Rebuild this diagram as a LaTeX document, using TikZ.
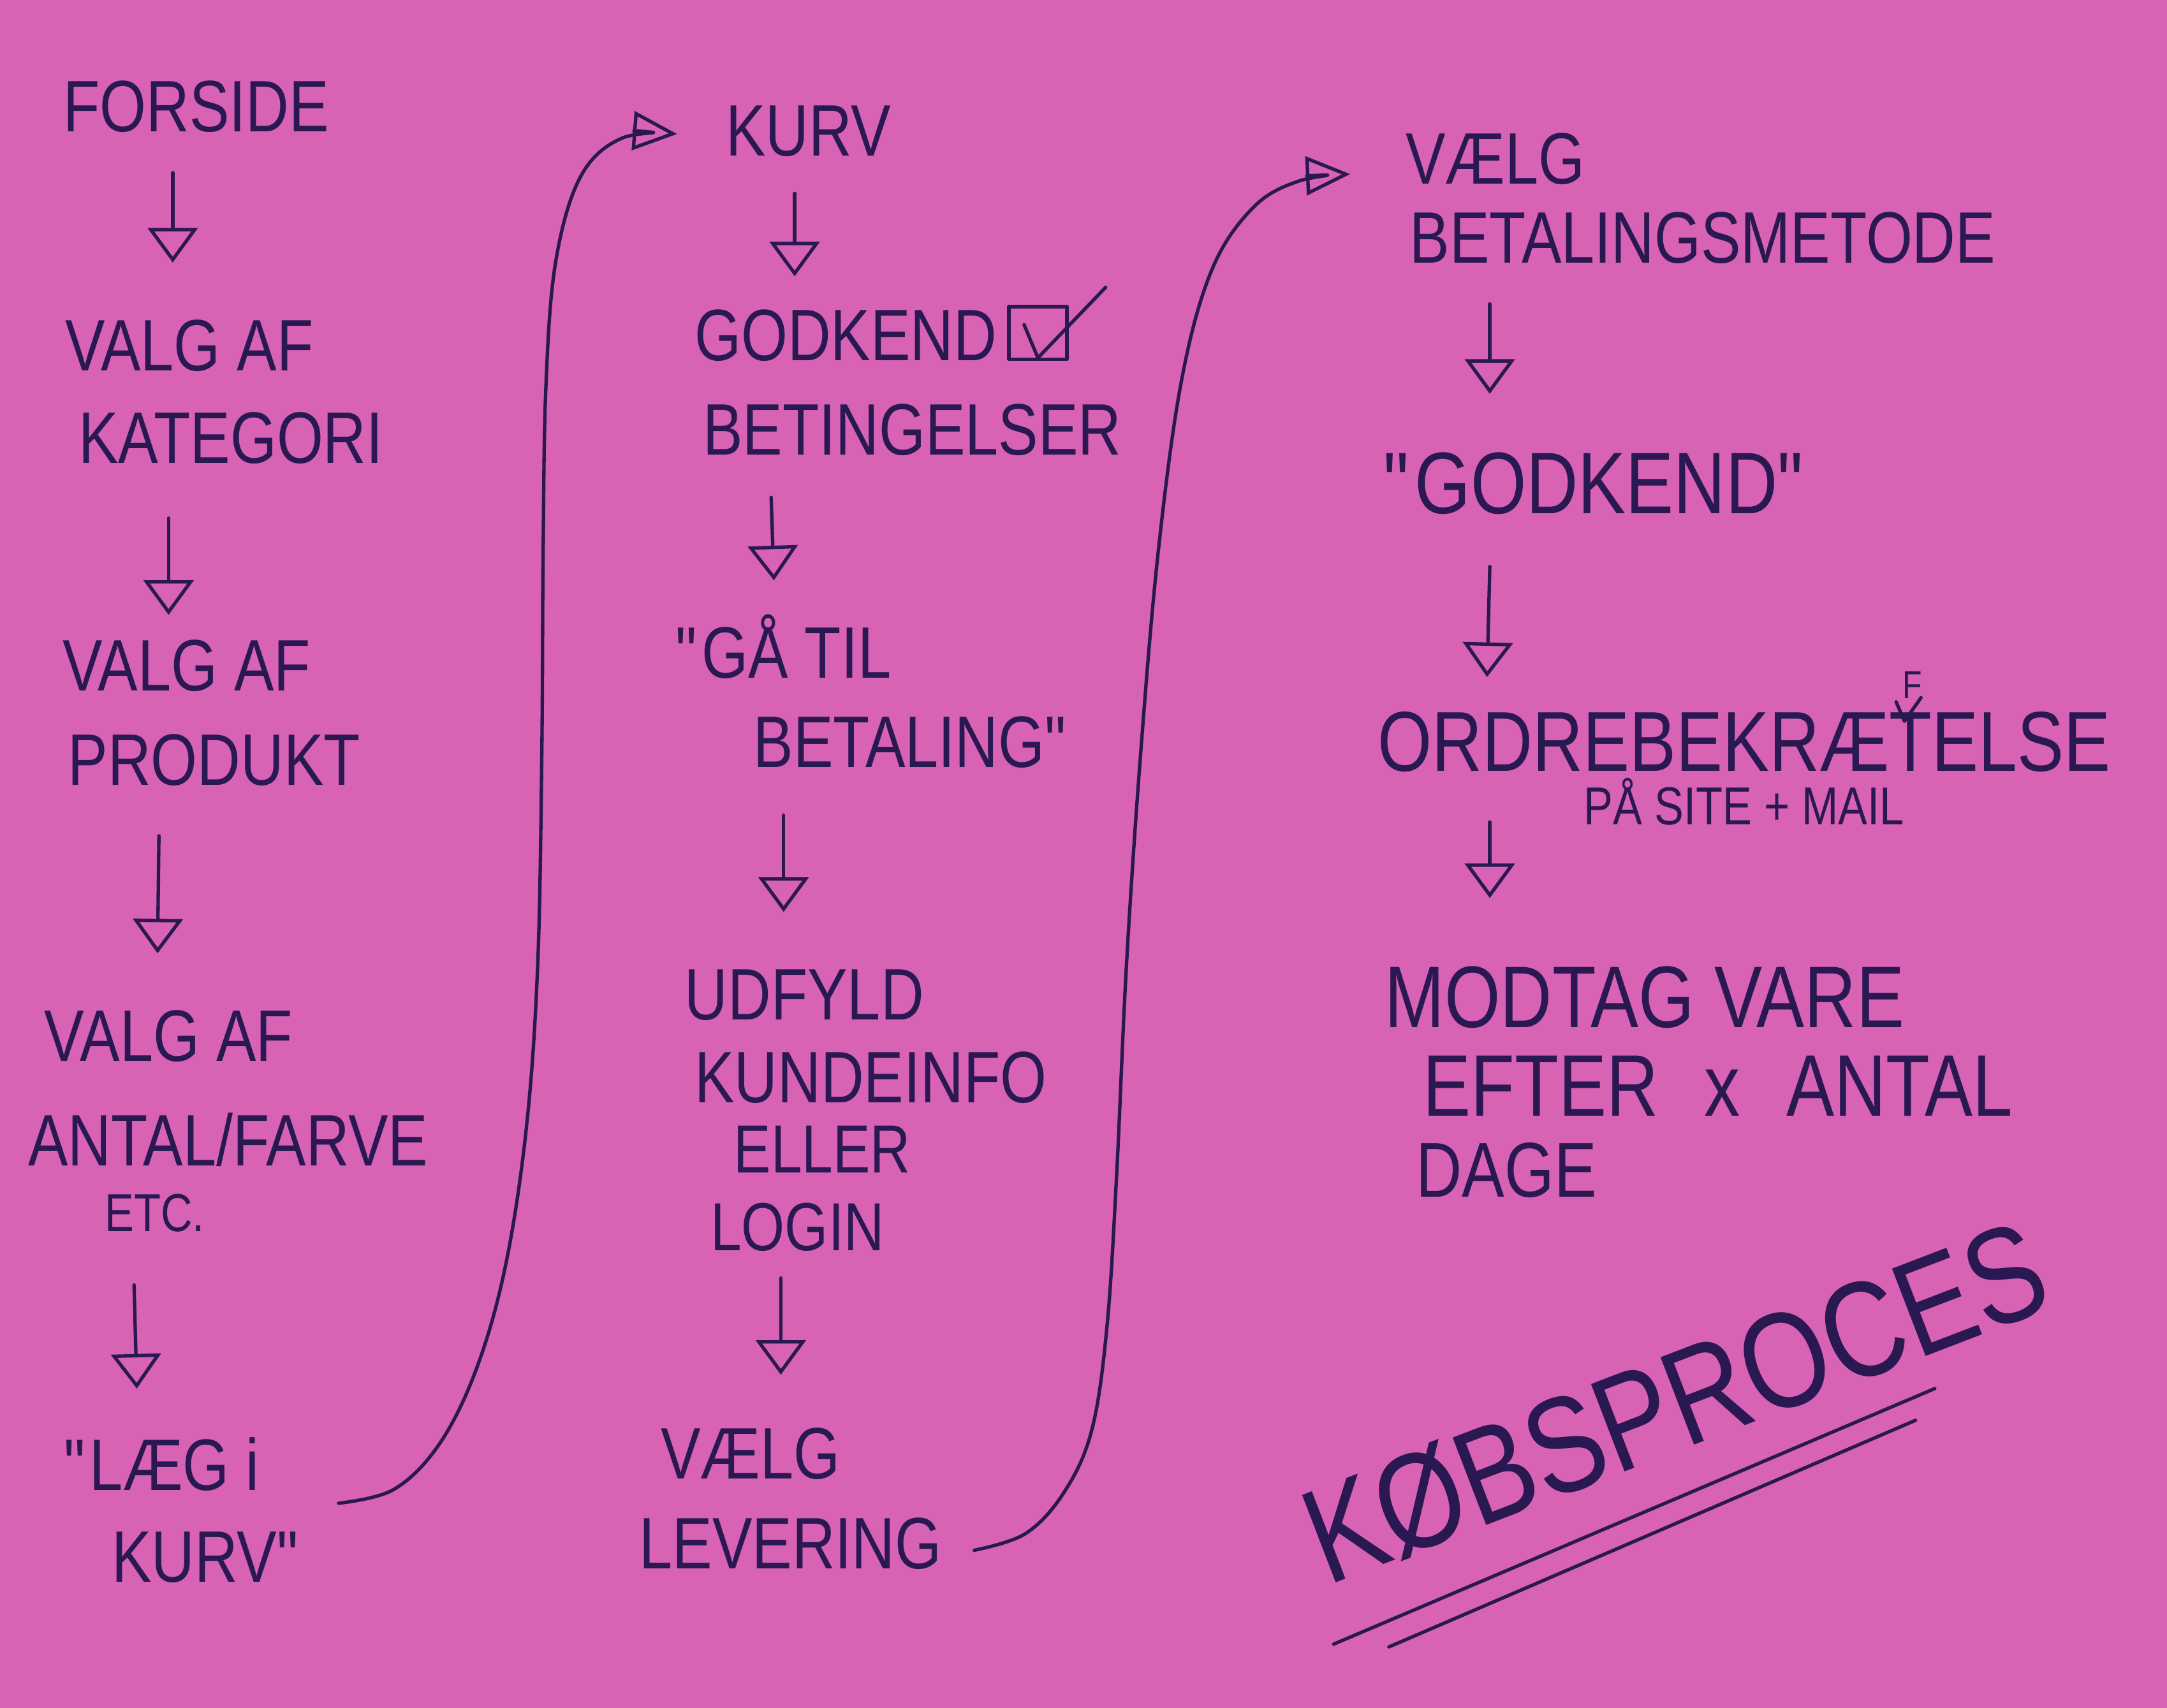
\documentclass[tikz,border=0pt]{standalone}
\usepackage{fontspec}
\setmainfont{Liberation Sans}[FakeStretch=0.82]
\usetikzlibrary{arrows.meta,calc}
\definecolor{paper}{RGB}{216,99,180}
\definecolor{ink}{RGB}{42,24,82}
\newcommand{\dq}{\textquotedbl}
\tikzset{
  hw/.style={text=ink, font=\fontsize{15}{17}\selectfont, inner sep=0pt, anchor=center},
  hwbig/.style={hw, font=\fontsize{18}{20}\selectfont},
  hwsmall/.style={hw, font=\fontsize{11}{13}\selectfont},
  pen/.style={draw=ink, line width=0.7pt, line cap=round, line join=round},
  flow/.style={pen, -{Triangle[open, length=0.25cm, width=0.36cm, line width=0.7pt]}},
  loopline/.style={pen, -{Triangle[open, length=0.32cm, width=0.28cm, line width=0.7pt]}},
}
\begin{document}
\begin{tikzpicture}[x=0.01cm, y=-0.01cm]
\fill[paper] (0,0) rectangle (1568,1236);
\useasboundingbox (0,0) rectangle (1568,1236);

% ---------- column 1 ----------
\node[hw] (forside) at (142,77) {FORSIDE};
\node[hw] (va1) at (137,250) {VALG AF};
\node[hw] (kat) at (167,317) {KATEGORI};
\node[hw] (va2) at (135,482) {VALG AF};
\node[hw] (prod) at (155,550) {PRODUKT};
\node[hw] (va3) at (122,750) {VALG AF};
\node[hw] (antal) at (165,825) {ANTAL/FARVE};
\node[hwsmall] (etc) at (112,878) {ETC.};
\node[hw] (laeg) at (117,1060) {\dq LÆG i};
\node[hw] (kurv1) at (150,1127) {KURV\dq};

\coordinate (a1s) at (125,125);  \coordinate (a1e) at (125,190);
\coordinate (a2s) at (122,375);  \coordinate (a2e) at (122,445);
\coordinate (a3s) at (115,605);  \coordinate (a3e) at (114,690);
\coordinate (a4s) at (97,930);   \coordinate (a4e) at (99,1005);
\draw[flow] (a1s) -- (a1e);
\draw[flow] (a2s) -- (a2e);
\draw[flow] (a3s) -- (a3e);
\draw[flow] (a4s) -- (a4e);

% ---------- column 2 ----------
\node[hw] (kurv) at (585,95) {KURV};
\node[hw] (godk) at (612,243) {GODKEND};
\node[pen, minimum width=0.42cm, minimum height=0.38cm, inner sep=0pt] (cb) at (751,241) {};
\draw[pen] ($(cb.center)+(-10,-6)$) -- ($(cb.center)+(0,18)$) -- ($(cb.center)+(49,-33)$);
\node[hw] (bet) at (660,311) {BETINGELSER};
\node[hw] (gaa) at (567,468) {\dq GÅ TIL};
\node[hw] (betal) at (660,537) {BETALING\dq};
\node[hw] (udf) at (582,720) {UDFYLD};
\node[hw] (kunde) at (630,780) {KUNDEINFO};
\node[hw, font=\fontsize{14}{16}\selectfont] (eller) at (595,832) {ELLER};
\node[hw, font=\fontsize{14}{16}\selectfont] (login) at (577,888) {LOGIN};
\node[hw] (vlg) at (543,1052) {VÆLG};
\node[hw] (lev) at (572,1117) {LEVERING};

\coordinate (b1s) at (575,140);  \coordinate (b1e) at (575,200);
\coordinate (b2s) at (558,360);  \coordinate (b2e) at (560,420);
\coordinate (b3s) at (567,590);  \coordinate (b3e) at (567,660);
\coordinate (b4s) at (565,925);  \coordinate (b4e) at (565,995);
\draw[flow] (b1s) -- (b1e);
\draw[flow] (b2s) -- (b2e);
\draw[flow] (b3s) -- (b3e);
\draw[flow] (b4s) -- (b4e);

% ---------- column 3 ----------
\node[hw] (vlg2) at (1082,115) {VÆLG};
\node[hw] (bm) at (1232,172) {BETALINGSMETODE};
\node[hwbig] (godk2) at (1155,350) {\dq GODKEND\dq};
\node[hw, font=\fontsize{17.5}{20}\selectfont] (ordre) at (1262,537) {ORDREBEKRÆTELSE};
\node[hw, font=\fontsize{8}{9}\selectfont] (fins) at (1384,496) {F};
\draw[pen] (1372,508) -- (1378,522) -- (1390,505);
\node[hwsmall] (site) at (1262,580) {PÅ SITE + MAIL};
\node[hwbig] (modtag) at (1190,722) {MODTAG VARE};
\node[hwbig] (efter) at (1243,786) {EFTER \hspace{0.3em}x\hspace{0.3em} ANTAL};
\node[hw, font=\fontsize{16}{18}\selectfont] (dage) at (1090,847) {DAGE};

\coordinate (c1s) at (1078,220);  \coordinate (c1e) at (1078,285);
\coordinate (c2s) at (1078,410);  \coordinate (c2e) at (1076,490);
\coordinate (c3s) at (1078,595);  \coordinate (c3e) at (1078,650);
\draw[flow] (c1s) -- (c1e);
\draw[flow] (c2s) -- (c2e);
\draw[flow] (c3s) -- (c3e);

% ---------- long connectors ----------
\coordinate (l1s) at (245,1088);
\coordinate (l1e) at (490,97);
\draw[loopline] plot[smooth, tension=0.6] coordinates {(l1s) (285,1078) (318,1045) (345,990) (366,915) (381,815) (389,700) (392,550) (393,400) (395,280) (402,190) (420,128) (450,100) (l1e)};

\coordinate (l2s) at (705,1122);
\coordinate (l2e) at (977,126);
\draw[loopline] plot[smooth, tension=0.6] coordinates {(l2s) (742,1110) (770,1080) (790,1035) (801,960) (808,850) (815,700) (825,550) (838,400) (855,275) (877,195) (907,150) (940,131) (l2e)};

% ---------- title ----------
\node[text=ink, font=\fontsize{28}{30}\selectfont, inner sep=0pt, rotate=21] (title) at (1212,1015) {KØBSPROCES};
\coordinate (u1s) at (965,1190); \coordinate (u1e) at (1400,1005);
\coordinate (u2s) at (1005,1192); \coordinate (u2e) at (1386,1028);
\draw[pen] (u1s) -- (u1e);
\draw[pen] (u2s) -- (u2e);
\end{tikzpicture}
\end{document}
